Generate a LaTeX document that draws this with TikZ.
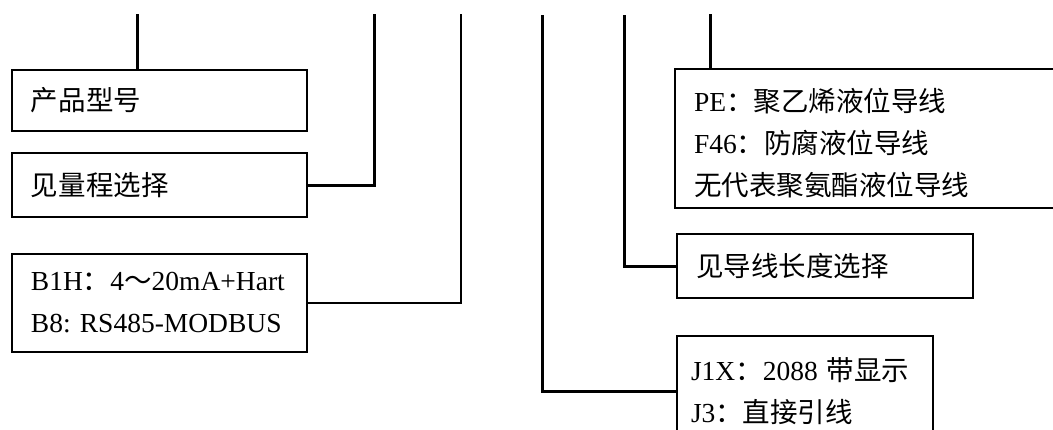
\documentclass[tikz,border=0pt]{standalone}
\usepackage{fontspec}
\setmainfont{Liberation Serif}
\newfontfamily\cjk{Noto Sans CJK SC}
\newcommand{\zh}[1]{{\cjk #1}}

\begin{document}
\begin{tikzpicture}[x=0.5pt,y=-0.5pt,
  box/.style={draw=black,line width=1pt,rectangle,anchor=north west,
    inner xsep=9.5pt,inner ysep=0pt,align=left,
    font=\fontsize{13.75pt}{21pt}\selectfont},
  wire/.style={line width=1.5pt},
  thinwire/.style={line width=0.7pt}]
  \clip (0,0) rectangle (1053,429);

  % Cajas de la izquierda
  \node[box,text width=128.5pt,minimum height=30.5pt] (c1) at (11,69) {\zh{产品型号}};
  \node[box,text width=128.5pt,minimum height=32pt] (c2) at (11,152) {\zh{见量程选择}};
  \node[box,text width=128.5pt,minimum height=49pt] (c3) at (11,253)
    {B1H\zh{：}4\zh{～}20mA+Hart\\B8:\ RS485-MODBUS};

  % Cajas de la derecha
  \node[box,text width=179pt,minimum height=69.5pt,text height=16pt] (c4) at (674,68)
    {PE\zh{：聚乙烯液位导线}\\F46\zh{：防腐液位导线}\\\zh{无代表聚氨酯液位导线}};
  \node[box,text width=129pt,minimum height=32pt] (c5) at (676,233) {\zh{见导线长度选择}};
  \node[box,inner xsep=7pt,text width=114pt,minimum height=55pt] (c6) at (676,335)
    {J1X\zh{：}2088 \zh{带显示}\\J3\zh{：直接引线}};

  % Extremos superiores de las lineas
  \coordinate (t1) at (137,14);
  \coordinate (t2) at (374,14);
  \coordinate (t3) at (461,14);
  \coordinate (t4) at (710,14);
  \coordinate (t5) at (624,15);
  \coordinate (t6) at (542,15);

  % Lineas
  \draw[wire] (t1) -- (t1 |- c1.north);
  \draw[wire] (c2.east) -| (t2);
  \draw[thinwire] (c3.east) -| (t3);
  \draw[wire] (t4) -- (t4 |- c4.north);
  \draw[wire] (c5.west) -| (t5);
  \draw[wire] (c6.west) -| (t6);
\end{tikzpicture}
\end{document}
